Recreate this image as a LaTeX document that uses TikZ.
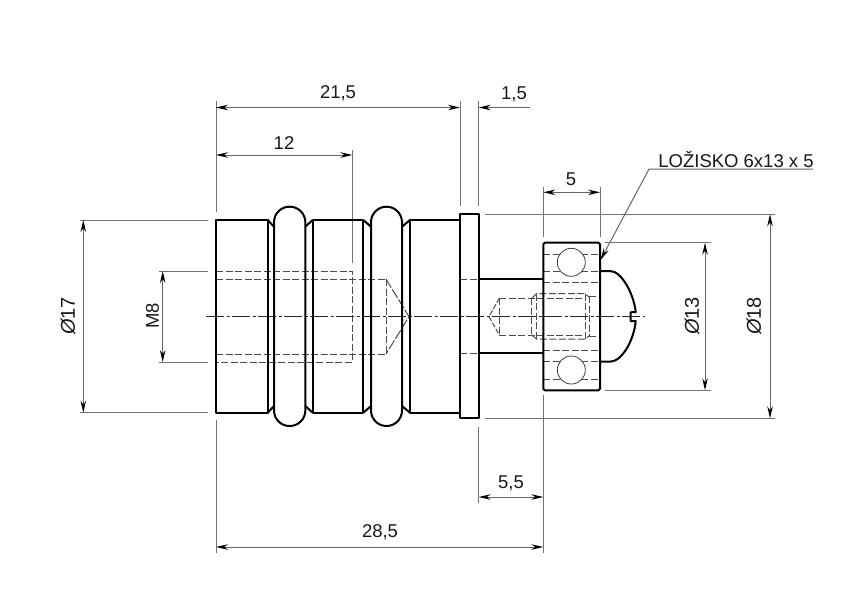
\documentclass[tikz,border=0pt]{standalone}
\usepackage{fontspec}
\setmainfont{Liberation Sans}
\usetikzlibrary{arrows.meta}
\tikzset{
  outline/.style={line width=2pt,black,line join=round},
  ext/.style={line width=1pt,black!55},
  dimline/.style={line width=1pt,black!60,{Stealth[length=12pt,width=5.5pt,black]}-{Stealth[length=12pt,width=5.5pt,black]}},
  dimright/.style={line width=1pt,black!60,-{Stealth[length=12pt,width=5.5pt,black]}},
  hid/.style={line width=1pt,black!70,dash pattern=on 7pt off 2.5pt},
  thinl/.style={line width=0.8pt,draw=black!75},
  axis/.style={line width=0.8pt,black!85,dash pattern=on 18pt off 2.5pt on 3pt off 2.5pt},
  lab/.style={font=\fontsize{18.5}{20}\selectfont,inner sep=0pt,text=black!90}
}
\begin{document}
\begin{tikzpicture}[x=1pt,y=-1pt]
\useasboundingbox (0,0) rectangle (850,600);
\fill[white] (0,0) rectangle (850,600);
% extension lines
\draw[ext] (216,101)--(216,212) (216,420)--(216,553);
\draw[ext] (460,101)--(460,206) (478.7,101)--(478.7,206) (478.7,427)--(478.7,503);
\draw[ext] (352.3,150)--(352.3,263);
\draw[ext] (543.3,187)--(543.3,237) (600,187)--(600,237) (543.3,395)--(543.3,553);
\draw[ext] (80,220)--(208,220) (80,412.7)--(208,412.7);
\draw[ext] (159.3,271)--(208,271) (159.3,362)--(208,362);
\draw[ext] (485,214.3)--(775,214.3) (485,418.3)--(775,418.3);
\draw[ext] (605,242.7)--(711,242.7) (605,390.3)--(711,390.3);
% dimension lines
\draw[dimline] (216,107.5)--(460,107.5);
\draw[dimright] (530,107.5)--(478.7,107.5);
\draw[dimline] (216,155)--(352.3,155);
\draw[dimline] (543.3,192.3)--(600,192.3);
\draw[dimline] (478.7,497)--(543.3,497);
\draw[dimline] (216,547)--(543.3,547);
\draw[dimline] (83.3,220)--(83.3,412.7);
\draw[dimline] (162.7,271)--(162.7,362);
\draw[dimline] (705,242.7)--(705,390.3);
\draw[dimline] (770,214.3)--(770,418.3);
\draw[dimright] (813,169)--(649,169)--(600.5,260);
% hidden lines: threaded hole
\draw[hid] (216,271)--(352.3,271)--(352.3,362)--(216,362);
\draw[hid] (216,279)--(386,279) (216,354)--(386,354) (386,279)--(386,354);
\draw[hid,dash pattern=on 10pt off 2pt] (386,279)--(409,316.7)--(386,354);
% hidden lines: stud
\draw[hid,dash pattern=on 5pt off 2pt] (499.3,298.3)--(489,316.7)--(499.3,335);
\draw[hid] (499.3,298.3)--(499.3,335);
\draw[hid] (499.3,298.3)--(585,298.3) (499.3,335)--(585,335);
\draw[hid] (531.7,298.3)--(531.7,335) (536.5,293.7)--(536.5,339);
\draw[hid] (531.7,298.3)--(536.5,293.7)--(585,293.7)--(589,297) (531.7,335)--(536.5,339)--(585,339)--(589,336);
\draw[hid] (585,293.7)--(585,339) (589,296)--(589,336.7);
\draw[hid] (589,296)--(600,296) (589,336.7)--(600,336.7);
% hidden in flange
\draw[hid] (460,279.3)--(478.7,279.3) (460,353.3)--(478.7,353.3);
% bearing hidden lines and balls
\draw[hid] (543.3,254)--(600,254) (543.3,271)--(600,271) (543.3,282.3)--(600,282.3);
\draw[hid] (543.3,350.3)--(600,350.3) (543.3,361.7)--(600,361.7) (543.3,379)--(600,379);
\path[thinl,fill=white] (571.3,262.3) circle (14);
\path[thinl,fill=white] (571.3,370) circle (14);
% axis
\draw[axis] (206,316.7)--(645,316.7);
% body
\draw[outline] (216,220) rectangle (267.7,412.7);
\draw[outline] (267.7,220)--(274,226.7) (267.7,412.7)--(274,406);
\draw[outline] (312.7,220) rectangle (363.3,412.7);
\draw[outline] (305.3,226.7)--(312.7,220) (305.3,406)--(312.7,412.7);
\draw[outline] (363.3,220)--(371,226.7) (363.3,412.7)--(371,406);
\draw[outline] (402,226.7)--(410,220) (402,406)--(410,412.7);
\draw[outline] (460,220)--(410,220)--(410,412.7)--(460,412.7);
\draw[outline,rounded corners=15.5pt] (274,206.7) rectangle (305.3,426);
\draw[outline,rounded corners=15.5pt] (371,206.7) rectangle (402,426);
\draw[outline] (460,214.3) rectangle (478.7,418.3);
\draw[outline] (478.7,279.3)--(543.3,279.3) (478.7,353.3)--(543.3,353.3);
\draw[outline,rounded corners=1.5pt] (543.3,242.7) rectangle (600,390.3);
% screw head
\draw[outline] (600,271)--(610,271) .. controls (622,271) and (634,295) .. (635.7,312)--(630.7,312.3)--(630.7,321)--(635.7,321) .. controls (634,340) and (622,361.7) .. (610,361.7)--(600,361.7);
% labels
\node[lab] (t215) at (338,93.5) {21,5};
\node[lab] (t15) at (514,94) {1,5};
\node[lab] (t12) at (284,143) {12};
\node[lab] (t5) at (571,179) {5};
\node[lab] (tl) at (736,160) {LOŽISKO 6x13 x 5};
\node[lab] (t55) at (511,483.5) {5,5};
\node[lab] (t285) at (380,532.5) {28,5};
\node[lab,rotate=90,font=\fontsize{20}{22}\selectfont] (tf17) at (68,316) {{\itshape Ø}17};
\node[lab,rotate=90] (tm8) at (152.5,316) {M8};
\node[lab,rotate=90,font=\fontsize{20}{22}\selectfont] (tf13) at (692,316) {{\itshape Ø}13};
\node[lab,rotate=90,font=\fontsize{20}{22}\selectfont] (tf18) at (754,316) {{\itshape Ø}18};
\end{tikzpicture}
\end{document}
